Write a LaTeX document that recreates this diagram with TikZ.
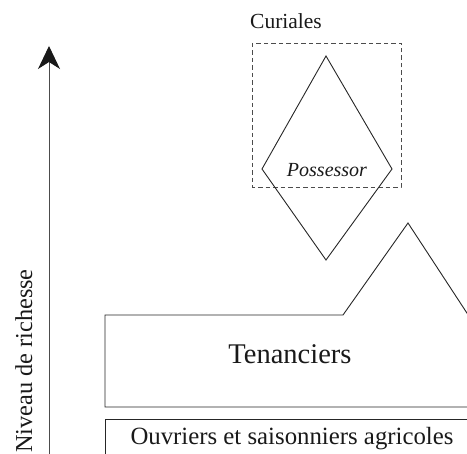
\documentclass[tikz,border=0pt]{standalone}
\usepackage{fontspec}
\setmainfont{Liberation Serif}
\usetikzlibrary{arrows.meta}
\begin{document}
\begin{tikzpicture}[x=1pt,y=1pt,
  edge/.style={line width=0.9pt,black!85},
  dashbox/.style={line width=0.9pt,black!70,dash pattern=on 4.5pt off 3pt},
  lbl/.style={inner sep=0pt,text=black!90}]
\useasboundingbox (0,0) rectangle (467,-454);
\clip (0,0) rectangle (467,-454);
% axis
\coordinate (axb) at (49,-460);
\coordinate (axt) at (49,-46);
\draw[line width=1pt,black!70,-{Stealth[length=23pt,width=22pt,inset=7pt,fill=black!90,color=black!90]}] (axb) -- (axt);
\node[lbl,rotate=90,anchor=base west,font=\fontsize{24.3}{28}\selectfont] (niv) at (32,-453) {Niveau de richesse};
% curiales
\draw[dashbox] (252,-43) rectangle (401,-187);
\node[lbl,font=\fontsize{21.5}{25}\selectfont] (cur) at (286,-21) {Curiales};
% possessor diamond
\coordinate (dt) at (326,-56);
\coordinate (dl) at (262,-169);
\coordinate (dr) at (392,-169);
\coordinate (db) at (326,-260);
\draw[edge] (dt) -- (dr) -- (db) -- (dl) -- cycle;
\node[lbl,font=\fontsize{20}{24}\itshape\selectfont] (pos) at (327,-170) {Possessor};
% tenanciers
\coordinate (t1) at (480,-407);
\coordinate (t2) at (105,-407);
\coordinate (t3) at (105,-315);
\coordinate (t4) at (343,-315);
\coordinate (t5) at (408,-223);
\coordinate (t6) at (480,-333);
\draw[edge] (t1) -- (t2) -- (t3) -- (t4) -- (t5) -- (t6);
\node[lbl,font=\fontsize{28.5}{32}\selectfont] (ten) at (290,-354) {Tenanciers};
% ouvriers
\coordinate (o1) at (105,-470);
\coordinate (o2) at (105,-419);
\coordinate (o3) at (480,-419);
\draw[edge] (o1) -- (o2) -- (o3);
\node[lbl,font=\fontsize{24.8}{28}\selectfont] (ouv) at (292,-439) {Ouvriers et saisonniers agricoles};
\end{tikzpicture}
\end{document}
